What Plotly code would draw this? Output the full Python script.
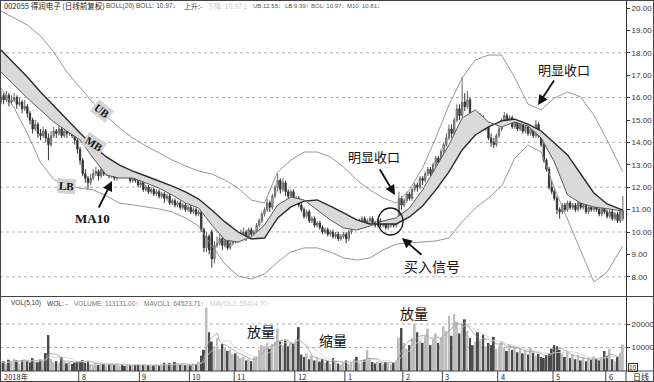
import plotly.graph_objects as go
import pandas as pd

# ---------------- data ----------------
opens = [15.8,16.1,15.9,16.1,15.8,15.9,16.0,15.7,15.8,15.5,
 15.6,15.3,15.0,14.6,14.8,14.4,14.3,14.5,14.2,13.9,
 14.3,14.5,14.4,14.6,14.3,14.5,14.4,14.6,14.3,14.1,
 13.7,13.2,12.6,12.4,12.2,12.4,12.6,12.7,12.5,12.8,
 12.6,12.7,12.5,12.6,12.4,12.7,12.8,12.6,12.5,12.6,
 12.3,12.4,12.3,12.1,12.2,11.9,12.0,11.8,11.9,11.7,
 11.8,11.6,11.7,11.5,11.6,11.3,11.4,11.2,11.3,11.1,
 11.2,11.0,11.1,10.9,11.0,10.8,10.9,10.1,9.3,9.8,
 10.0,8.8,9.4,9.5,9.7,9.4,9.6,9.3,9.5,9.7,
 9.6,9.8,9.9,10.0,9.8,10.1,9.9,10.0,10.3,10.5,
 10.8,11.0,11.3,11.1,11.6,12.0,12.3,11.9,12.2,11.8,
 11.6,11.8,11.4,11.5,11.2,11.0,10.7,10.9,10.5,10.6,
 10.3,10.4,10.2,10.0,10.1,9.9,10.0,9.8,9.9,9.7,
 9.8,9.9,9.7,10.0,10.2,10.4,10.3,10.5,10.6,10.4,
 10.5,10.6,10.4,10.3,10.5,10.3,10.4,10.2,10.3,10.4,
 10.3,10.5,11.5,11.2,11.4,11.7,11.5,11.9,12.1,12.0,
 12.4,12.3,12.6,12.8,12.6,13.0,13.3,13.1,13.6,13.9,
 14.2,14.6,14.4,15.0,15.5,15.2,15.8,15.6,15.9,15.3,
 15.0,15.2,14.9,15.1,14.6,14.8,14.2,14.0,13.9,14.3,
 14.6,15.0,15.2,14.9,15.1,14.7,14.9,14.6,14.8,14.5,
 14.7,14.4,14.6,14.3,14.8,14.3,13.9,13.2,12.8,12.0,
 11.8,11.5,11.0,10.9,11.2,11.0,11.3,11.1,11.2,11.0,
 11.3,11.1,11.2,10.9,11.1,11.0,11.2,11.0,10.8,11.1,
 10.9,10.7,10.9,10.6,10.8,10.5,10.6]

highs = [16.3,16.2,16.3,16.2,16.1,16.2,16.1,16.0,15.9,15.9,
 15.7,15.4,15.1,15.0,14.9,14.6,14.7,14.6,14.4,14.5,
 14.7,14.6,14.8,14.7,14.6,14.6,14.8,14.7,14.4,14.2,
 13.8,13.3,12.8,12.5,12.6,12.8,12.9,12.8,12.9,12.9,
 12.8,12.8,12.7,12.7,12.8,12.9,12.9,12.7,12.7,12.7,
 12.5,12.5,12.4,12.3,12.3,12.1,12.1,12.0,12.0,11.9,
 11.9,11.8,11.8,11.7,11.7,11.5,11.5,11.4,11.4,11.3,
 11.3,11.2,11.2,11.1,11.1,11.0,10.9,10.2,10.0,9.9,
 10.1,9.6,9.8,9.9,9.8,9.7,9.7,9.6,9.8,9.8,
 9.9,10.1,10.2,10.1,10.2,10.2,10.1,10.4,10.6,10.9,
 11.1,11.5,11.4,11.7,12.1,12.6,12.4,12.4,12.3,11.9,
 11.9,11.9,11.6,11.6,11.3,11.1,11.0,11.0,10.7,10.7,
 10.5,10.5,10.3,10.2,10.2,10.1,10.1,10.0,10.0,9.9,
 10.0,10.0,10.1,10.3,10.5,10.5,10.6,10.7,10.7,10.6,
 10.7,10.7,10.5,10.6,10.6,10.5,10.5,10.4,10.5,10.5,
 10.6,11.8,11.6,11.5,11.8,11.8,12.0,12.2,12.2,12.5,
 12.5,12.7,12.9,12.9,13.1,13.4,13.4,13.7,14.0,14.4,
 14.8,14.8,15.1,15.7,15.7,16.9,16.2,16.3,16.0,15.4,
 15.4,15.3,15.3,15.2,14.9,14.9,14.4,14.2,14.4,14.7,
 15.1,15.35,15.3,15.2,15.2,15.0,15.0,14.9,14.9,14.8,
 14.8,14.7,14.7,15.0,14.9,14.4,14.0,13.3,12.9,12.3,
 11.9,11.6,11.1,11.3,11.3,11.4,11.4,11.3,11.3,11.4,
 11.4,11.3,11.3,11.2,11.2,11.3,11.3,11.1,11.2,11.2,
 11.0,11.0,11.0,10.9,10.9,11.0,11.6]

lows = [15.7,15.7,15.8,15.6,15.7,15.8,15.5,15.6,15.3,15.4,
 15.1,14.8,14.4,14.5,14.2,14.1,14.2,14.0,13.2,13.8,
 14.2,14.2,14.3,14.2,14.2,14.2,14.3,14.2,13.9,13.5,
 13.0,12.5,12.2,11.9,12.1,12.3,12.5,12.3,12.4,12.5,
 12.5,12.4,12.4,12.3,12.3,12.6,12.5,12.4,12.4,12.2,
 12.2,12.2,12.0,12.0,11.8,11.8,11.7,11.7,11.6,11.6,
 11.5,11.5,11.3,11.4,11.2,11.2,11.1,11.1,11.0,11.0,
 10.9,10.9,10.8,10.8,10.7,10.7,10.0,9.1,9.1,9.0,
 8.4,8.6,9.3,9.4,9.2,9.3,9.2,9.2,9.4,9.5,
 9.5,9.7,9.8,9.6,9.7,9.8,9.8,9.9,10.2,10.4,
 10.7,10.9,10.9,11.0,11.5,11.8,11.7,11.8,11.6,11.4,
 11.5,11.3,11.3,11.1,10.9,10.6,10.6,10.4,10.4,10.2,
 10.2,10.1,9.9,9.9,9.8,9.8,9.7,9.7,9.6,9.6,
 9.7,9.5,9.6,9.9,10.1,10.2,10.2,10.4,10.3,10.3,
 10.4,10.3,10.2,10.2,10.2,10.2,10.1,10.1,10.2,10.2,
 10.2,10.5,11.0,11.1,11.3,11.4,11.4,11.8,11.8,11.9,
 12.1,12.2,12.5,12.5,12.5,12.9,13.0,13.0,13.5,13.8,
 14.1,14.2,14.3,14.9,15.0,15.1,15.4,15.5,15.2,14.9,
 14.9,14.8,14.8,14.5,14.5,14.1,13.8,13.75,13.8,14.2,
 14.5,14.9,14.8,14.8,14.6,14.6,14.5,14.5,14.4,14.4,
 14.3,14.3,14.2,14.2,14.2,13.8,13.1,12.7,11.9,11.7,
 11.4,10.8,10.6,10.8,10.9,10.9,11.0,11.0,10.9,10.9,
 11.0,11.0,10.8,10.8,10.9,10.9,10.9,10.7,10.7,10.8,
 10.6,10.6,10.5,10.5,10.4,10.4,10.5]

closes = [16.0,15.9,16.1,15.8,15.9,16.0,15.7,15.8,15.5,15.6,
 15.3,15.0,14.6,14.8,14.4,14.3,14.5,14.2,13.9,14.3,
 14.5,14.4,14.6,14.3,14.5,14.4,14.6,14.3,14.1,13.7,
 13.2,12.6,12.4,12.2,12.4,12.6,12.7,12.5,12.8,12.6,
 12.7,12.5,12.6,12.4,12.7,12.8,12.6,12.5,12.6,12.3,
 12.4,12.3,12.1,12.2,11.9,12.0,11.8,11.9,11.7,11.8,
 11.6,11.7,11.5,11.6,11.3,11.4,11.2,11.3,11.1,11.2,
 11.0,11.1,10.9,11.0,10.8,10.9,10.1,9.3,9.8,9.2,
 8.8,9.4,9.5,9.7,9.4,9.6,9.3,9.5,9.7,9.6,
 9.8,9.9,10.0,9.8,10.1,9.9,10.0,10.3,10.5,10.8,
 11.0,11.3,11.1,11.6,12.0,12.3,11.9,12.2,11.8,11.6,
 11.8,11.4,11.5,11.2,11.0,10.7,10.9,10.5,10.6,10.3,
 10.4,10.2,10.0,10.1,9.9,10.0,9.8,9.9,9.7,9.8,
 9.9,9.7,10.0,10.2,10.4,10.3,10.5,10.6,10.4,10.5,
 10.6,10.4,10.3,10.5,10.3,10.4,10.2,10.3,10.4,10.3,
 10.5,11.5,11.2,11.4,11.7,11.5,11.9,12.1,12.0,12.4,
 12.3,12.6,12.8,12.6,13.0,13.3,13.1,13.6,13.9,14.2,
 14.6,14.4,15.0,15.5,15.2,15.8,15.6,15.9,15.3,15.0,
 15.2,14.9,15.1,14.6,14.8,14.2,14.0,13.9,14.3,14.6,
 15.0,15.2,14.9,15.1,14.7,14.9,14.6,14.8,14.5,14.7,
 14.4,14.6,14.3,14.8,14.3,13.9,13.2,12.8,12.0,11.8,
 11.5,11.0,10.9,11.2,11.0,11.3,11.1,11.2,11.0,11.3,
 11.1,11.2,10.9,11.1,11.0,11.2,11.0,10.8,11.1,10.9,
 10.7,10.9,10.6,10.8,10.5,10.9,10.95]

# volume in axis units (x10 shares)
volumes = [3500,4200,3000,4800,3800,5200,4500,3200,4600,5000,
 4400,3600,5500,4100,3700,4900,4300,7600,15300,5200,
 3800,4200,3500,6000,4000,3300,3900,3000,3600,4300,
 4100,4600,3500,4400,3000,2800,3400,2600,3100,2900,
 2400,2700,3200,2500,2900,2300,2600,2100,2800,2400,
 2200,2600,3000,2400,2700,2200,2500,2000,2400,2800,
 2300,2600,3500,2700,3300,2900,3800,3200,2600,3000,
 2500,2800,2400,3100,2900,4000,6500,9000,27000,16500,
 12500,10500,14000,9500,11500,10000,8500,9000,7000,7500,
 6500,5500,6000,4500,5000,4200,5800,6300,9000,11000,
 10500,12000,9500,11500,12500,18000,12500,11000,13000,10500,
 12000,11500,13500,18700,7000,6000,7500,5000,6500,4500,
 5500,4000,5000,3500,4200,3000,5500,4000,3200,2800,
 3600,4500,3000,3800,5000,6000,3500,4000,4800,9000,
 5500,3800,3200,4000,3500,3000,3800,3300,2800,3500,
 4500,14200,18300,12000,9500,11000,14000,20000,16500,13000,
 12000,15000,18000,11000,13500,16000,12000,14500,19000,17000,
 23500,15000,24300,21000,16000,20500,22000,17000,14000,11000,
 12500,16500,13000,15500,10500,12000,11000,14500,9500,11000,
 12500,10000,8500,11500,9000,10500,8000,9500,7500,8800,
 7000,10000,7800,6500,7200,6000,5500,6800,7500,9500,
 11000,10500,9000,7500,6000,8500,5500,7000,5000,6500,
 4500,5800,4200,5500,4800,6200,5000,4500,5800,8500,
 6500,9500,5000,4000,6000,7800,11300]

# Bollinger / MA lines at these bar positions
band_idx = [0,5,10,15,20,25,30,35,40,45,50,55,60,65,70,75,80,85,90,95,
            100,105,110,115,120,125,130,135,140,145,150,155,160,165,170,175,
            180,185,190,195,200,205,210,215,220,225,230,236]
ub = [19.87,19.55,19.24,18.75,18.04,17.14,16.43,15.76,15.18,14.64,
      14.20,13.84,13.53,13.21,12.95,12.72,12.59,12.32,11.96,11.43,
      11.29,12.68,13.21,13.57,13.57,13.35,12.90,12.32,11.88,11.52,
      11.29,11.88,12.86,14.20,15.67,16.88,17.68,17.90,17.90,16.88,
      15.71,15.45,15.98,16.25,16.03,15.22,14.11,12.68]
mb = [18.13,17.54,16.92,16.25,15.63,15.00,14.42,13.84,13.35,12.99,
      12.72,12.50,12.28,12.05,11.79,11.47,10.98,10.45,10.00,9.69,
      9.73,10.63,11.12,11.38,11.43,11.16,10.85,10.54,10.36,10.36,
      10.36,10.67,11.16,11.88,12.68,13.66,14.33,14.69,14.96,15.04,
      14.82,14.51,13.97,13.44,12.59,11.74,11.25,10.98]
ma10 = [17.14,16.56,15.98,15.45,14.91,14.51,14.11,13.30,12.54,12.41,
        12.41,12.19,11.96,11.65,11.29,11.07,10.31,9.64,9.55,9.78,
        10.31,11.21,11.56,11.43,10.98,10.54,10.18,10.09,10.27,10.49,
        10.63,11.07,11.88,12.86,13.88,15.09,15.45,14.91,14.69,14.91,
        14.73,14.20,13.13,11.65,11.29,11.12,11.03,10.94]
lb = [16.43,15.54,14.40,13.10,12.35,12.05,11.96,11.88,11.61,11.29,
      11.21,11.12,11.03,10.89,10.63,10.27,9.38,8.57,8.04,7.90,
      8.13,8.66,9.11,9.29,9.29,9.11,8.84,8.75,8.84,9.20,
      9.46,9.51,9.55,9.60,9.73,10.45,11.07,11.52,12.05,13.30,
      13.88,13.57,11.96,10.54,9.11,7.77,8.21,9.38]

month_idx = [30, 53, 72, 89, 112, 131, 153, 168, 189, 210, 230]
month_txt = ["8", "9", "10", "11", "12", "1", "2", "3", "4", "5", "6"]
price_ticks = [8, 9, 10, 11, 12, 13, 14, 15, 16, 17, 18, 19, 20]
price_grid = [8, 10, 12, 14, 16, 18]
vol_ticks = [10000, 20000]

# ---------------- geometry helpers (pixel -> paper) ----------------
PW, PH = 626.0, 371.0
def px(x):
    return x / PW
def py(y):
    return (PH - y) / PH

N = len(closes)
xs = list(range(N))
vol_s = pd.Series(volumes, dtype=float)
mavol1 = vol_s.rolling(5, min_periods=1).mean()
mavol2 = vol_s.rolling(10, min_periods=1).mean()
vol_colors = ["#bdbdbd" if c >= o else "#4a4a4a" for o, c in zip(opens, closes)]

fig = go.Figure()

# bands
fig.add_trace(go.Scatter(x=band_idx, y=ub, mode="lines", line=dict(color="#8c8c8c", width=0.9),
                         hoverinfo="skip", xaxis="x", yaxis="y"))
fig.add_trace(go.Scatter(x=band_idx, y=lb, mode="lines", line=dict(color="#8c8c8c", width=0.9),
                         hoverinfo="skip", xaxis="x", yaxis="y"))
fig.add_trace(go.Scatter(x=band_idx, y=mb, mode="lines", line=dict(color="#2a2a2a", width=1.4),
                         hoverinfo="skip", xaxis="x", yaxis="y"))
fig.add_trace(go.Scatter(x=band_idx, y=ma10, mode="lines", line=dict(color="#5a5a5a", width=1),
                         fill="tonexty", fillcolor="#dadada", hoverinfo="skip", xaxis="x", yaxis="y"))

# candles
fig.add_trace(go.Candlestick(
    x=xs, open=opens, high=highs, low=lows, close=closes,
    increasing=dict(line=dict(color="#666666", width=1), fillcolor="#c4c4c4"),
    decreasing=dict(line=dict(color="#333333", width=1), fillcolor="#333333"),
    whiskerwidth=0, hoverinfo="skip", xaxis="x", yaxis="y"))

# volume
fig.add_trace(go.Bar(x=xs, y=volumes, marker=dict(color=vol_colors, line=dict(width=0)),
                     width=0.72, hoverinfo="skip", xaxis="x2", yaxis="y2"))
fig.add_trace(go.Scatter(x=xs, y=mavol1, mode="lines", line=dict(color="#9a9a9a", width=0.8),
                         hoverinfo="skip", xaxis="x2", yaxis="y2"))
fig.add_trace(go.Scatter(x=xs, y=mavol2, mode="lines", line=dict(color="#cfcfcf", width=0.8),
                         hoverinfo="skip", xaxis="x2", yaxis="y2"))

xr = [-0.38, 237.19]
fig.update_layout(
    width=654, height=382,
    margin=dict(l=0, r=28, t=0, b=11, pad=0),
    paper_bgcolor="white", plot_bgcolor="white",
    showlegend=False,
    font=dict(family="Liberation Sans, Arial", size=8, color="#333"),
    xaxis=dict(domain=[0, 1], range=xr, anchor="y", showticklabels=False, showgrid=False,
               zeroline=False, rangeslider=dict(visible=False), fixedrange=True),
    yaxis=dict(domain=[py(296), 1], range=[7.1429, 20.357], side="right", anchor="x",
               tickvals=price_ticks, ticktext=["%.2f" % v for v in price_ticks],
               ticks="outside", ticklen=3, tickcolor="#333", showgrid=False, zeroline=False,
               showline=True, linecolor="#333", linewidth=1, tickfont=dict(size=8, color="#333")),
    xaxis2=dict(domain=[0, 1], range=xr, anchor="y2", matches="x", showticklabels=False,
                showgrid=False, zeroline=False, fixedrange=True),
    yaxis2=dict(domain=[0, py(297)], range=[0, 31490], side="right", anchor="x2",
                tickvals=vol_ticks, ticktext=[str(v) for v in vol_ticks],
                ticks="outside", ticklen=3, tickcolor="#333", showgrid=False, zeroline=False,
                showline=True, linecolor="#333", linewidth=1, tickfont=dict(size=8, color="#333")),
)

shapes = []
for g in price_grid:
    shapes.append(dict(type="line", xref="paper", yref="y", x0=0, x1=1, y0=g, y1=g,
                       line=dict(color="#b0b0b0", width=1, dash="dot"), layer="below"))
for g in vol_ticks:
    shapes.append(dict(type="line", xref="paper", yref="y2", x0=0, x1=1, y0=g, y1=g,
                       line=dict(color="#b0b0b0", width=1, dash="dot"), layer="below"))
# frame lines
RIGHT = 653.5 / PW
shapes += [
    dict(type="line", xref="paper", yref="paper", x0=0, x1=RIGHT, y0=py(296.5), y1=py(296.5),
         line=dict(color="#444", width=1)),
    dict(type="line", xref="paper", yref="paper", x0=0, x1=RIGHT, y0=py(371), y1=py(371),
         line=dict(color="#444", width=1)),
    dict(type="line", xref="paper", yref="paper", x0=0, x1=RIGHT, y0=py(381.5), y1=py(381.5),
         line=dict(color="#444", width=1)),
    dict(type="line", xref="paper", yref="paper", x0=0, x1=RIGHT, y0=py(0.5), y1=py(0.5),
         line=dict(color="#444", width=1)),
    dict(type="line", xref="paper", yref="paper", x0=px(0.5), x1=px(0.5), y0=py(0), y1=py(382),
         line=dict(color="#444", width=1)),
    dict(type="line", xref="paper", yref="paper", x0=RIGHT, x1=RIGHT, y0=py(0), y1=py(382),
         line=dict(color="#444", width=1)),
    dict(type="line", xref="paper", yref="paper", x0=px(626), x1=px(626), y0=py(371), y1=py(382),
         line=dict(color="#444", width=1)),
]
for mi in month_idx:
    shapes.append(dict(type="line", xref="x", yref="paper", x0=mi - 0.5, x1=mi - 0.5,
                       y0=py(382), y1=py(371), line=dict(color="#444", width=1)))
# circle around the squeeze
shapes.append(dict(type="circle", xref="paper", yref="paper", x0=px(378), x1=px(403),
                   y0=py(235), y1=py(208), line=dict(color="#111", width=1.3)))
fig.update_layout(shapes=shapes)

ann = []
CJK = "Noto Sans CJK SC"
LAT = "Liberation Sans"
def txt(x, y, t, size=8, color="#333", family=CJK, xanchor="left", **kw):
    d = dict(xref="paper", yref="paper", x=px(x), y=py(y), text=t, showarrow=False,
             xanchor=xanchor, yanchor="middle", font=dict(size=size, color=color, family=family))
    d.update(kw)
    ann.append(d)

def arrow(hx, hy, tx, ty):
    ann.append(dict(xref="paper", yref="paper", x=px(hx), y=py(hy), ax=tx - hx, ay=ty - hy,
                    text="", showarrow=True, arrowhead=2, arrowsize=1.1, arrowwidth=1.8,
                    arrowcolor="#111"))

# header lines (placed piece by piece as in the reference)
txt(2, 6, "002055 得润电子 (日线前复权)", size=7.5, color="#222")
txt(104, 6, "BOLL(20)", size=6.5, color="#444", family=LAT)
txt(134, 6, "BOLL: 10.97↓", size=6.5, color="#444", family=LAT)
txt(182, 6, "上升:-", size=7, color="#444")
txt(205, 6, "下降: 10.97↓", size=7, color="#cccccc")
txt(251, 6, "UB:12.55↓", size=6, color="#555", family=LAT)
txt(283, 6, "LB:9.39↑", size=6, color="#555", family=LAT)
txt(309, 6, "BOL: 10.97↓", size=6, color="#555", family=LAT)
txt(345, 6, "M10: 10.81↓", size=6, color="#555", family=LAT)
txt(9, 303, "VOL(5,10)", size=6.5, color="#333", family=LAT)
txt(45, 303, "WOL: -", size=6.5, color="#333", family=LAT)
txt(72, 303, "VOLUME: 113131.00↑", size=6.5, color="#777", family=LAT)
txt(142, 303, "MAVOL1: 64523.71↑", size=6.5, color="#777", family=LAT)
txt(208, 303, "MAVOL2: 55404.70↑", size=6.5, color="#cccccc", family=LAT)

# month labels
txt(2, 376.5, "2018年", size=7.5, color="#222")
for mi, mt in zip(month_idx, month_txt):
    ann.append(dict(xref="x", yref="paper", x=mi - 0.5, y=py(376.5), text=mt, showarrow=False,
                    xanchor="left", yanchor="middle", xshift=1,
                    font=dict(size=7.5, color="#222", family=CJK)))
txt(631, 376.5, "日线", size=8, color="#222")
txt(628, 367, "10", size=6.5, color="#222", family=LAT,
    bordercolor="#333", borderwidth=1, borderpad=0)

# band labels
SERIF = "Liberation Serif"
txt(102, 111, "<b>UB</b>", size=11, color="#111", family=SERIF, xanchor="center",
    textangle=38, bgcolor="#d4d4d4")
txt(94, 144, "<b>MB</b>", size=11, color="#111", family=SERIF, xanchor="center",
    textangle=33, bgcolor="#d4d4d4")
txt(66, 186, "<b>LB</b>", size=11, color="#111", family=SERIF, xanchor="center",
    textangle=4, bgcolor="#d4d4d4")
txt(92, 218, "<b>MA10</b>", size=13, color="#111", family=SERIF, xanchor="center")
arrow(112, 181, 98, 209)

# Chinese annotations
txt(374, 156, "明显收口", size=13, color="#111", xanchor="center")
arrow(395, 195, 379, 168)
txt(564, 70, "明显收口", size=13, color="#111", xanchor="center")
arrow(538, 105, 555, 79)
txt(432, 266, "买入信号", size=14, color="#111", xanchor="center")
arrow(402, 238, 423, 256)
txt(261, 331, "放量", size=14, color="#111", xanchor="center")
txt(333, 340, "缩量", size=14, color="#111", xanchor="center")
txt(414, 313, "放量", size=14, color="#111", xanchor="center")

fig.update_layout(annotations=ann)
fig.write_html("out.html")
